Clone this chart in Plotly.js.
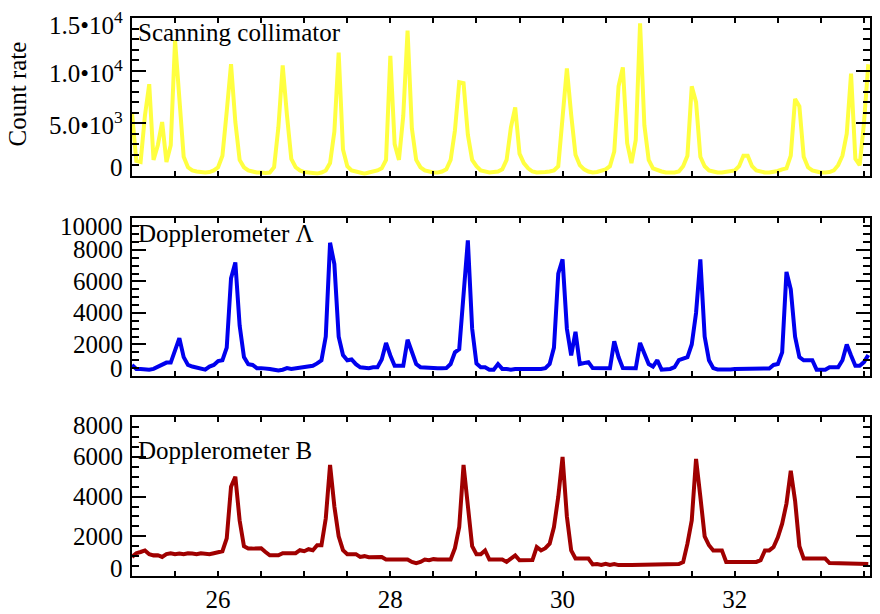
<!DOCTYPE html>
<html><head><meta charset="utf-8">
<script src="https://cdn.plot.ly/plotly-3.0.1.min.js"></script>
<style>html,body{margin:0;padding:0;background:#fff}</style>
</head><body><div id="chart" style="width:880px;height:614px"></div>
<script>
// channel grid (bin left edges)
const X_START = 25.0, X_STEP = 0.05, N_BINS = 172;

const scanningCollimator = [
6000,1400,1300,5700,8700,1500,2900,5100,1300,2900,
12900,6900,1800,800,500,400,350,300,350,500,
800,1900,6100,10600,5100,1500,800,500,400,300,
300,250,300,800,4600,10500,5700,1600,800,500,
350,300,250,200,300,500,1200,4200,11700,2500,
900,500,400,300,200,300,400,500,700,1500,
11400,3000,1500,5700,13800,4500,1500,800,500,400,
300,300,400,600,1500,4300,8900,8800,3900,1500,
900,500,350,300,350,400,600,1500,4600,6500,
2100,1200,700,400,300,300,350,400,500,900,
5300,10200,5800,2000,1000,600,400,300,350,450,
600,900,2300,8500,10300,3100,1200,3400,14500,4800,
1500,700,500,400,300,300,300,400,900,1900,
8500,7000,1800,900,500,400,300,300,350,400,
500,900,1900,1900,900,500,350,300,300,350,
450,600,700,1900,7300,6600,1800,800,500,400,
300,300,350,500,1000,1900,4000,9700,1600,1000,
5000,10600];

const dopplerA = [
700,450,450,400,400,450,600,700,850,850,
1700,2400,1200,700,600,550,450,400,600,700,
950,1000,1800,6200,7200,3200,1200,750,700,500,
500,500,450,400,350,400,500,450,500,550,
600,650,650,800,1000,2500,8450,7100,2500,1330,
1000,1050,750,550,500,500,550,550,1050,2100,
1300,650,650,650,2300,1500,760,560,560,500,
560,500,490,500,760,1500,1700,5000,8600,3000,
800,560,560,400,400,760,450,450,400,450,
450,400,450,450,400,450,500,760,1800,6500,
7400,3000,1300,2800,760,850,880,500,490,490,
490,490,2200,1200,500,490,490,490,2100,1500,
760,600,1000,400,400,450,560,1000,1100,1200,
2000,4000,7400,2500,1000,500,420,400,420,420,
450,450,420,450,420,480,450,480,480,700,
760,1500,6600,5500,2500,1200,1000,1000,1000,400,
400,400,560,560,560,1000,2000,1300,650,650,
880,1330];

const dopplerB = [
960,1150,1210,1290,1100,1040,1050,960,1100,1150,
1100,1130,1100,1150,1130,1100,1150,1130,1100,1150,
1200,1250,1900,4500,5000,2800,1500,1380,1380,1400,
1400,1210,1040,1040,1040,1150,1150,1200,1150,1300,
1250,1350,1300,1550,1550,2900,5600,3500,2000,1300,
1100,1100,1100,960,1000,950,960,1000,960,830,
850,830,830,850,830,710,650,710,830,800,
850,830,830,850,830,1400,2470,5600,3500,1500,
1100,1100,1290,830,830,830,830,710,880,1040,
790,790,790,800,1460,1290,1400,1630,2470,4000,
6000,3000,1290,880,880,880,880,580,600,560,
620,560,600,550,580,560,560,560,600,560,
560,560,600,560,580,560,560,600,700,1630,
2800,5900,4000,2000,1550,1290,1290,1290,710,710,
760,710,760,710,710,710,800,1290,1290,1460,
1950,2640,3650,5300,3800,1500,880,880,880,880,
880,880,650,650,650,600,650,600,650,650,
600,600];

const panelNames = ['Scanning collimator', 'Dopplerometer \u039B', 'Dopplerometer B'];
const panelColors = ['#ffff40', '#0000ee', '#a00000'];
const yRanges = [[0, 15000], [0, 10000], [0, 8000]];
const yMajor = [5000, 2000, 2000];
const yMinor = [1000, 500, 500];
const yTickVals = [[0, 5000, 10000, 15000], [0, 2000, 4000, 6000, 8000, 10000], [0, 2000, 4000, 6000, 8000]];
const yTickText = [
  ['0', '5.0\u202210<sup>3</sup>', '1.0\u202210<sup>4</sup>', '1.5\u202210<sup>4</sup>'],
  ['0', '2000', '4000', '6000', '8000', '10000'],
  ['0', '2000', '4000', '6000', '8000']];
const xRange = [25, 33.57];
const yTitle = 'Count rate';

const xs = [];
for (let i = 0; i < N_BINS; i++) xs.push(+(X_START + i * X_STEP).toFixed(2));

const series = [scanningCollimator, dopplerA, dopplerB];
const domains = [[0.7174, 1.0], [0.3584, 0.641], [0.0, 0.2844]];
const FONT = {family: 'Liberation Serif', size: 25, color: '#000'};
const topShift = [-5, -8, -8];

const traces = series.map((vals, k) => ({
  type: 'scatter', mode: 'lines', x: xs, y: vals,
  xaxis: k === 0 ? 'x' : 'x' + (k + 1), yaxis: k === 0 ? 'y' : 'y' + (k + 1),
  line: {shape: 'linear', width: 4, color: panelColors[k]}, hoverinfo: 'skip', showlegend: false
}));

const layout = {
  width: 880, height: 614, paper_bgcolor: '#fff', plot_bgcolor: '#fff',
  margin: {l: 132, r: 10, t: 18, b: 38}, font: FONT, showlegend: false,
  annotations: []
};

for (let k = 0; k < 3; k++) {
  const sx = k === 0 ? '' : String(k + 1);
  layout['xaxis' + sx] = {
    domain: [0, 1], anchor: 'y' + sx, range: xRange, showline: true, linecolor: '#000', linewidth: 2,
    mirror: 'ticks', ticks: 'inside', ticklen: 5, tickwidth: 2, tickcolor: '#000',
    tick0: 26, dtick: 2,
    minor: {dtick: 0.5, ticks: 'inside', ticklen: 5, tickwidth: 2, tickcolor: '#000', showgrid: false},
    showgrid: false, zeroline: false, showticklabels: k === 2, tickfont: FONT, fixedrange: true
  };
  layout['yaxis' + sx] = {
    domain: domains[k], anchor: 'x' + sx, range: yRanges[k], showline: true, linecolor: '#000', linewidth: 2,
    mirror: 'ticks', ticks: 'inside', ticklen: 14, tickwidth: 2, tickcolor: '#000',
    tick0: 0, dtick: yMajor[k],
    minor: {dtick: yMinor[k], ticks: 'inside', ticklen: 7, tickwidth: 2, tickcolor: '#000', showgrid: false},
    showgrid: false, zeroline: false, showticklabels: false, fixedrange: true
  };
  const vals = yTickVals[k];
  vals.forEach((v, j) => {
    let ys = 0;
    if (j === 0) ys = 8;
    else if (j === vals.length - 1) ys = topShift[k];
    layout.annotations.push({
      xref: 'paper', x: 0, xanchor: 'right', xshift: -7,
      yref: 'y' + sx, y: v, yanchor: 'middle', yshift: ys,
      text: yTickText[k][j], showarrow: false, font: FONT
    });
  });
}

const titleY = [0.9747, 0.6133, 0.2251];
panelNames.forEach((name, k) => {
  layout.annotations.push({
    xref: 'paper', x: 0, xanchor: 'left', xshift: 4,
    yref: 'paper', y: titleY[k], yanchor: 'middle',
    text: name, showarrow: false, font: FONT
  });
});
layout.annotations.push({
  xref: 'paper', x: 0, xanchor: 'center', xshift: -115,
  yref: 'paper', y: 0.863, yanchor: 'middle', textangle: -90,
  text: yTitle, showarrow: false, font: FONT
});

Plotly.newPlot('chart', traces, layout, {displayModeBar: false, staticPlot: true});
</script></body></html>
